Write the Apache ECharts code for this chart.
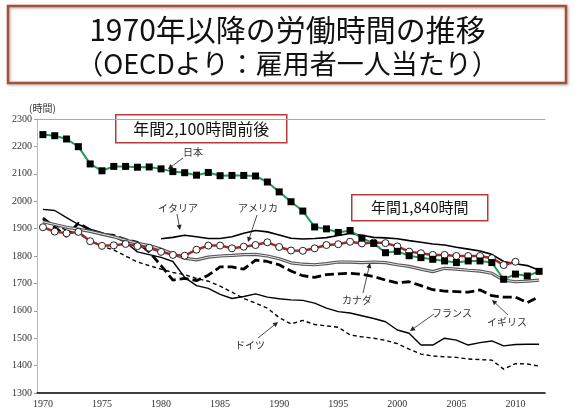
<!DOCTYPE html>
<html>
<head>
<meta charset="utf-8">
<script src="https://cdn.jsdelivr.net/npm/echarts@6/dist/echarts.min.js"></script>
<style>
html,body{margin:0;padding:0;background:#fff;}
#main{width:575px;height:416px;}
</style>
</head>
<body>
<div id="main"></div>
<script>
// 年（横軸）
var years = ['1970','1971','1972','1973','1974','1975','1976','1977','1978','1979',
             '1980','1981','1982','1983','1984','1985','1986','1987','1988','1989',
             '1990','1991','1992','1993','1994','1995','1996','1997','1998','1999',
             '2000','2001','2002','2003','2004','2005','2006','2007','2008','2009',
             '2010','2011','2012'];

// 各国の年間労働時間（雇用者一人当たり）
var japan = [2243,2239,2227,2199,2136,2111,2127,2127,2124,2125,
             2118,2108,2104,2095,2105,2093,2094,2094,2092,2070,
             2034,1998,1964,1906,1899,1886,1893,1865,1846,1812,
             1817,1801,1794,1788,1782,1776,1782,1782,1776,1715,
             1734,1727,1744];
var usa = [1905,1889,1883,1888,1854,1837,1839,1844,1836,1830,
           1815,1804,1801,1823,1838,1838,1828,1834,1840,1850,
           1833,1820,1819,1828,1840,1843,1852,1846,1849,1847,
           1835,1816,1810,1804,1804,1800,1800,1800,1792,1767,
           1779,null,null];
var italy = [null,null,null,null,null,null,null,null,null,null,
             1863,1868,1876,1870,1864,1864,1870,1883,1893,1888,
             1877,1865,1862,1864,1867,1875,1882,1876,1868,1866,
             1863,1856,1850,1844,1840,1832,1825,1818,1806,1780,
             1772,1765,1748];
var canada = [1925,1915,1905,1898,1890,1880,1870,1858,1846,1838,
              1825,1808,1792,1786,1796,1800,1802,1805,1806,1800,
              1790,1775,1770,1768,1772,1778,1778,1776,1778,1776,
              1768,1762,1752,1743,1755,1752,1748,1745,1737,1712,
              1706,1708,1712];
var uk = [1938,1905,1872,1920,1895,1880,1875,1860,1850,1815,
          1765,1712,1718,1710,1730,1760,1760,1752,1785,1780,
          1768,1745,1728,1722,1732,1735,1737,1733,1725,1712,
          1702,1706,1692,1677,1672,1670,1668,1676,1655,1650,
          1650,1630,1652];
var france = [1970,1966,1940,1915,1898,1885,1870,1850,1815,1805,
              1795,1780,1722,1692,1682,1660,1645,1652,1662,1650,
              1644,1640,1638,1628,1610,1597,1592,1582,1572,1560,
              1530,1518,1475,1475,1500,1493,1475,1484,1490,1472,
              1477,1478,1478];
var germany = [1930,1912,1895,1880,1858,1835,1822,1800,1778,1765,
               1752,1740,1732,1718,1708,1690,1668,1645,1628,1610,
               1575,1552,1565,1550,1545,1540,1512,1505,1500,1492,
               1480,1460,1442,1435,1432,1430,1424,1422,1420,1387,
               1407,1406,1398];

var yMin = 1300, yMax = 2300, yStep = 100;

// 注記（国名ラベルと矢印）
var notes = [
    {text:'日本',     x:193, y:152, from:[183,158], to:[168,169]},
    {text:'イタリア', x:178, y:208, from:[177,214], to:[180,230]},
    {text:'アメリカ', x:258, y:208, from:[257,215], to:[248,242]},
    {text:'カナダ',   x:357, y:300, from:[363,293], to:[370,263]},
    {text:'フランス', x:452, y:313, from:[434,314], to:[410,331]},
    {text:'イギリス', x:507, y:322, from:[508,315], to:[492,300]},
    {text:'ドイツ',   x:250, y:345, from:[258,338], to:[278,322]}
];

var chart = echarts.init(document.getElementById('main'));

function arrow(a, b) {
    var dx = b[0]-a[0], dy = b[1]-a[1];
    var len = Math.sqrt(dx*dx+dy*dy), ux = dx/len, uy = dy/len;
    var h = 5, w = 2.5;
    var bx = b[0]-ux*h, by = b[1]-uy*h;
    return [
        {type:'line', silent:true, shape:{x1:a[0], y1:a[1], x2:bx, y2:by},
         style:{stroke:'#222', lineWidth:0.8}},
        {type:'polygon', silent:true,
         shape:{points:[[b[0],b[1]],[bx-uy*w,by+ux*w],[bx+uy*w,by-ux*w]]},
         style:{fill:'#222'}}
    ];
}

var graphics = [
    {type:'rect', shape:{x:8, y:6, width:558, height:77},
     style:{fill:'none', stroke:'#a4503a', lineWidth:2.5,
            shadowBlur:3, shadowColor:'rgba(0,0,0,0.35)', shadowOffsetX:1, shadowOffsetY:1}},
    {type:'group', left:115, top:114, children:[
        {type:'rect', shape:{x:0, y:0, width:171, height:28},
         style:{fill:'#fff', stroke:'#b83a3a', lineWidth:1.5}},
        {type:'text', x:85.5, y:14, style:{text:'年間2,100時間前後', fontSize:16,
         fontFamily:'Noto Sans CJK JP', fill:'#111', align:'center', verticalAlign:'middle'}}
    ]},
    {type:'group', left:351, top:194, children:[
        {type:'rect', shape:{x:0, y:0, width:136, height:26},
         style:{fill:'#fff', stroke:'#b83a3a', lineWidth:1.5}},
        {type:'text', x:68, y:13, style:{text:'年間1,840時間', fontSize:15,
         fontFamily:'Noto Sans CJK JP', fill:'#111', align:'center', verticalAlign:'middle'}}
    ]}
];
notes.forEach(function (n) {
    graphics.push({type:'text', x:n.x, y:n.y, silent:true,
        style:{text:n.text, fontSize:10, fontFamily:'Noto Sans CJK JP', fill:'#333',
               align:'center', verticalAlign:'middle'}});
    graphics = graphics.concat(arrow(n.from, n.to));
});

function lineSeries(name, data, style, extra) {
    var s = {name:name, type:'line', data:data, symbol:'none', silent:true,
             lineStyle:style, connectNulls:false, z:2};
    for (var k in extra) s[k] = extra[k];
    return s;
}

var option = {
    animation: false,
    title: {
        text: '1970年以降の労働時間の推移',
        subtext: '（OECDより：雇用者一人当たり）',
        left: 'center',
        top: 10,
        itemGap: 5,
        textStyle: {fontSize:30, fontWeight:'normal', color:'#111', fontFamily:'Noto Sans CJK JP'},
        subtextStyle: {fontSize:27, color:'#111', fontFamily:'Noto Sans CJK JP'}
    },
    grid: {left:37, right:30, top:119, bottom:23},
    xAxis: [{
        type: 'category',
        data: years,
        boundaryGap: true,
        axisLine: {lineStyle:{color:'#000', width:1.5}},
        axisTick: {interval:0, inside:true, length:3, lineStyle:{color:'#555'}},
        axisLabel: {interval:4, fontSize:10, color:'#333', fontFamily:'Liberation Serif', margin:6}
    }, {
        type: 'category',
        data: years,
        position: 'top',
        axisLine: {show:true, lineStyle:{color:'#aaa', width:1}},
        axisTick: {show:false},
        axisLabel: {show:false}
    }],
    yAxis: {
        type: 'value',
        min: yMin, max: yMax, interval: yStep,
        name: '(時間)',
        nameLocation: 'end',
        nameGap: 6,
        nameTextStyle: {fontSize:10, color:'#333', fontFamily:'Noto Sans CJK JP', align:'left', padding:[0,0,0,-8]},
        axisLine: {show:true, lineStyle:{color:'#bbb'}},
        axisTick: {show:true, length:3, lineStyle:{color:'#999'}},
        axisLabel: {fontSize:10, color:'#333', fontFamily:'Liberation Serif', margin:5,
                    formatter: function (v) { return String(v); }},
        splitLine: {show:false}
    },
    series: [
        lineSeries('ドイツ', germany, {color:'#000', width:1.4, type:[4,3]}),
        lineSeries('フランス', france, {color:'#000', width:1.4}),
        lineSeries('イギリス', uk, {color:'#000', width:2.8, type:[9,4]}),
        lineSeries('カナダ', canada, {color:'#555', width:3.2}),
        lineSeries('カナダ_inner', canada, {color:'#e6e6e6', width:1}),
        lineSeries('イタリア', italy, {color:'#000', width:1.6}),
        lineSeries('アメリカ', usa, {color:'#a8282a', width:2.5},
            {symbol:'circle', symbolSize:7, itemStyle:{color:'#fff', borderColor:'#222', borderWidth:1}, z:3}),
        lineSeries('日本', japan, {color:'#1f9d55', width:2},
            {symbol:'rect', symbolSize:7, itemStyle:{color:'#000'}, z:4})
    ],
    graphic: graphics
};

chart.setOption(option);
</script>
</body>
</html>
